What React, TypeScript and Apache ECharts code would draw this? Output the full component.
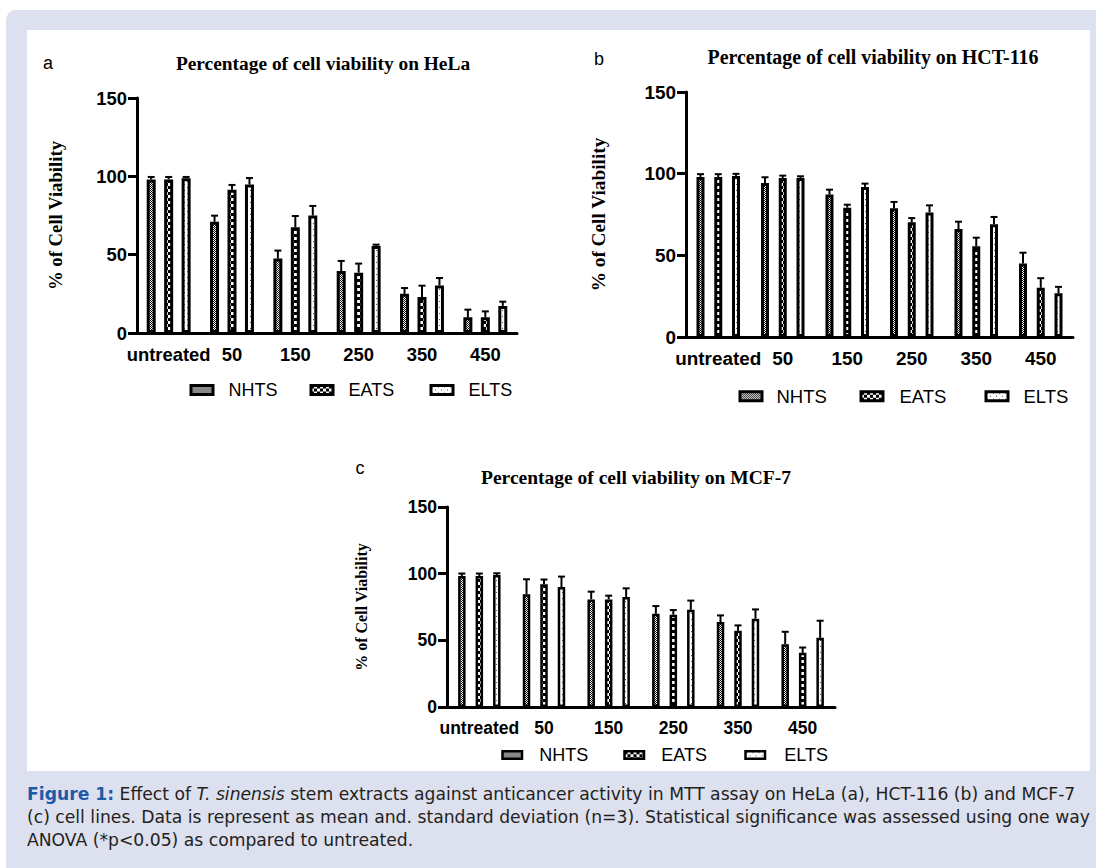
import React, { useEffect, useRef } from 'react';
import * as echarts from 'echarts';

// ---------- data ----------
const categories = ['untreated', '50', '150', '250', '350', '450'];
const seriesNames = ['NHTS', 'EATS', 'ELTS'];
const yMin = 0;
const yMax = 150;
const yInterval = 50;

const panelTitles = [
  'Percentage of cell viability on HeLa',
  'Percentage of cell viability on HCT-116',
  'Percentage of cell viability on MCF-7',
];
const panelLetters = ['a', 'b', 'c'];
const yAxisTitle = '% of Cell Viability';

// HeLa (a)
const helaNHTS = [98, 71, 47.5, 39.5, 25, 10];
const helaNHTSsd = [1.6, 3.9, 5.1, 6.5, 3.7, 4.9];
const helaEATS = [98, 91.5, 67.5, 38.5, 23, 10];
const helaEATSsd = [1.6, 3, 7.2, 5.8, 7.2, 3.8];
const helaELTS = [98.8, 94.8, 75, 55.5, 30.3, 17.3];
const helaELTSsd = [0.8, 4.1, 6.1, 0.9, 4.8, 2.7];

// HCT-116 (b)
const hctNHTS = [98, 94.3, 87.2, 78.8, 66.1, 45];
const hctNHTSsd = [1.7, 3.5, 3.0, 3.9, 4.5, 6.6];
const hctEATS = [98, 97.4, 79.2, 70.2, 55.5, 30.1];
const hctEATSsd = [1.7, 1.4, 1.8, 2.6, 5.3, 5.9];
const hctELTS = [98.6, 97.4, 91.9, 76.3, 69.0, 26.8];
const hctELTSsd = [1.3, 1.0, 2.0, 4.3, 4.5, 3.9];

// MCF-7 (c)
const mcfNHTS = [98.3, 84.5, 80.7, 69.9, 63.7, 47.1];
const mcfNHTSsd = [1.8, 11.3, 5.8, 5.8, 5.0, 9.3];
const mcfEATS = [98.3, 92.0, 80.7, 69.2, 57.1, 40.6];
const mcfEATSsd = [1.8, 3.6, 2.8, 3.5, 4.1, 4.0];
const mcfELTS = [99, 90, 82.5, 72.9, 66.2, 51.9];
const mcfELTSsd = [1.3, 7.8, 6.5, 6.9, 7.0, 12.8];

const captionLines = [
  '{b|Figure 1:} Effect of {i|T. sinensis} stem extracts against anticancer activity in MTT assay on HeLa (a), HCT-116 (b) and MCF-7',
  '(c) cell lines. Data is represent as mean and. standard deviation (n=3). Statistical significance was assessed using one way',
  'ANOVA (*p<0.05) as compared to untreated.',
];

// ---------- layout / style ----------
const SANS = "'Liberation Sans', Arial, sans-serif";
const SERIF = "'Liberation Serif', 'Times New Roman', serif";
const CAPTION_FONT = "'DejaVu Sans', sans-serif";
const CAPTION_SIZE = 17.2;

const panels = [
  {
    means: [helaNHTS, helaEATS, helaELTS],
    sds: [helaNHTSsd, helaEATSsd, helaELTSsd],
    grid: { left: 137, top: 98, width: 380, height: 235 },
    barW: 9, border: 3, gap: 0.94,
    tickFont: 18.4, nameFont: 18.7, nameGap: 72,
    title: { x: 323, y: 63, size: 19.4 },
    letter: { x: 48, y: 63 },
    legend: { iconLefts: [188, 308, 428], textLefts: [227, 347, 467], cy: 390, iw: 22, ih: 9, bw: 3, font: 18 },
  },
  {
    means: [hctNHTS, hctEATS, hctELTS],
    sds: [hctNHTSsd, hctEATSsd, hctELTSsd],
    grid: { left: 686, top: 92, width: 387, height: 245 },
    barW: 8, border: 3, gap: 1.22,
    tickFont: 18.9, nameFont: 19.3, nameGap: 78,
    title: { x: 873, y: 57, size: 19.9 },
    letter: { x: 599, y: 59 },
    legend: { iconLefts: [737, 858, 983], textLefts: [775, 898, 1022], cy: 396, iw: 22, ih: 9, bw: 3, font: 18.5 },
  },
  {
    means: [mcfNHTS, mcfEATS, mcfELTS],
    sds: [mcfNHTSsd, mcfEATSsd, mcfELTSsd],
    grid: { left: 447, top: 507, width: 388, height: 200 },
    barW: 7.5, border: 2.5, gap: 1.33,
    tickFont: 17.5, nameFont: 16, nameGap: 78,
    title: { x: 636, y: 477, size: 19.5 },
    letter: { x: 360, y: 468 },
    legend: { iconLefts: [500, 622, 743], textLefts: [538, 660, 783], cy: 755, iw: 19.5, ih: 7.5, bw: 2.5, font: 18 },
  },
];

function makePattern(kind: string): any {
  const c = document.createElement('canvas');
  if (kind === 'NHTS') {
    c.width = 2; c.height = 2;
    const ctx = c.getContext('2d')!;
    ctx.fillStyle = '#ffffff'; ctx.fillRect(0, 0, 2, 2);
    ctx.fillStyle = '#111111'; ctx.fillRect(0, 0, 1, 1); ctx.fillRect(1, 1, 1, 1);
  } else if (kind === 'EATS') {
    c.width = 6; c.height = 6;
    const ctx = c.getContext('2d')!;
    ctx.fillStyle = '#ffffff'; ctx.fillRect(0, 0, 6, 6);
    ctx.fillStyle = '#000000'; ctx.fillRect(0, 0, 3, 3); ctx.fillRect(3, 3, 3, 3);
  } else {
    c.width = 6; c.height = 6;
    const ctx = c.getContext('2d')!;
    ctx.fillStyle = '#ffffff'; ctx.fillRect(0, 0, 6, 6);
    ctx.fillStyle = '#555555'; ctx.fillRect(1, 1, 1, 1); ctx.fillRect(4, 4, 1, 1);
  }
  return { image: c, repeat: 'repeat', imageWidth: c.width, imageHeight: c.height };
}

function buildOption() {
  const patterns = seriesNames.map((n) => makePattern(n));
  const grid: any[] = [];
  const xAxis: any[] = [];
  const yAxis: any[] = [];
  const series: any[] = [];
  const legend: any[] = [];
  const graphic: any[] = [
    { type: 'rect', z: -20, shape: { x: 6, y: 10, width: 1100, height: 870, r: [10, 0, 0, 0] }, style: { fill: '#dde0ef' } },
    { type: 'rect', z: -19, shape: { x: 27, y: 30, width: 1063, height: 741 }, style: { fill: '#ffffff' } },
  ];

  panels.forEach((p, pi) => {
    grid.push({ ...p.grid, containLabel: false });
    xAxis.push({
      type: 'category', gridIndex: pi, data: categories,
      axisLine: { lineStyle: { color: '#000', width: 3 } },
      axisTick: { alignWithLabel: true, length: 9, lineStyle: { color: '#000', width: 3 } },
      axisLabel: { interval: 0, color: '#000', fontWeight: 'bold', fontSize: p.tickFont, fontFamily: SANS, margin: 12 },
      splitLine: { show: false },
    });
    yAxis.push({
      type: 'value', gridIndex: pi, min: yMin, max: yMax, interval: yInterval,
      axisLine: { show: true, lineStyle: { color: '#000', width: 3 } },
      axisTick: { show: true, length: 9, lineStyle: { color: '#000', width: 3 } },
      axisLabel: { color: '#000', fontWeight: 'bold', fontSize: p.tickFont, fontFamily: SANS, margin: 10 },
      splitLine: { show: false },
      name: yAxisTitle, nameLocation: 'middle', nameRotate: 90, nameGap: p.nameGap,
      nameTextStyle: { color: '#000', fontWeight: 'bold', fontSize: p.nameFont, fontFamily: SERIF },
    });
    seriesNames.forEach((name, j) => {
      series.push({
        type: 'bar', name, xAxisIndex: pi, yAxisIndex: pi,
        data: p.means[j], barWidth: p.barW, barGap: `${Math.round(p.gap * 100)}%`,
        itemStyle: { color: patterns[j], borderColor: '#000', borderWidth: p.border },
        emphasis: { disabled: true }, silent: true, z: 2,
      });
      const offset = (j - 1) * p.barW * (1 + p.gap);
      series.push({
        type: 'custom', name: name + ' SD', xAxisIndex: pi, yAxisIndex: pi, z: 3, silent: true,
        data: p.means[j].map((m, k) => [k, m, p.sds[j][k]]),
        encode: { x: 0, y: 1 },
        renderItem: (params: any, api: any) => {
          const k = api.value(0);
          const m = api.value(1);
          const s = api.value(2);
          const base = api.coord([k, m]);
          const top = api.coord([k, m + s]);
          const x = base[0] + offset;
          return {
            type: 'group',
            children: [
              { type: 'line', shape: { x1: x, y1: base[1], x2: x, y2: top[1] }, style: { stroke: '#000', lineWidth: 2 } },
              { type: 'line', shape: { x1: x - 3.5, y1: top[1], x2: x + 3.5, y2: top[1] }, style: { stroke: '#000', lineWidth: 2 } },
            ],
          };
        },
      });
      const L = p.legend;
      const left = L.iconLefts[j] + L.bw / 2;
      const pad = L.textLefts[j] - (left + L.iw + 5);
      legend.push({
        data: [{ name, icon: 'rect', itemStyle: { color: patterns[j], borderColor: '#000', borderWidth: L.bw } }],
        left, top: L.cy - L.font / 2, padding: 0, itemWidth: L.iw, itemHeight: L.ih,
        selectedMode: false,
        textStyle: { color: '#000', fontSize: L.font, fontFamily: SANS, padding: [0, 0, 0, pad] },
      });
    });
    graphic.push({
      type: 'text', z: 50, x: p.title.x, y: p.title.y,
      style: { text: panelTitles[pi], font: `bold ${p.title.size}px ${SERIF}`, fill: '#000', align: 'center', verticalAlign: 'middle' },
    });
    graphic.push({
      type: 'text', z: 50, x: p.letter.x, y: p.letter.y,
      style: { text: panelLetters[pi], font: `18px ${SANS}`, fill: '#000', align: 'center', verticalAlign: 'middle' },
    });
  });

  const captionY = [794, 817, 840];
  captionLines.forEach((line, i) => {
    graphic.push({
      type: 'text', z: 50, x: 27, y: captionY[i],
      style: {
        text: line, font: `${CAPTION_SIZE}px ${CAPTION_FONT}`, fill: '#231f20', align: 'left', verticalAlign: 'middle',
        rich: {
          b: { font: `bold ${CAPTION_SIZE}px ${CAPTION_FONT}`, fill: '#1d5ba6' },
          i: { font: `italic ${CAPTION_SIZE}px ${CAPTION_FONT}`, fill: '#231f20' },
        },
      },
    });
  });

  return {
    animation: false,
    backgroundColor: '#ffffff',
    grid, xAxis, yAxis, series, legend, graphic,
  };
}

export default function App() {
  const ref = useRef<HTMLDivElement>(null);
  useEffect(() => {
    if (!ref.current) return;
    const chart = echarts.init(ref.current, undefined, { renderer: 'svg' });
    chart.setOption(buildOption() as any);
    return () => chart.dispose();
  }, []);
  return <div ref={ref} style={{ position: 'fixed', left: 0, top: 0, width: 1096, height: 868 }} />;
}
